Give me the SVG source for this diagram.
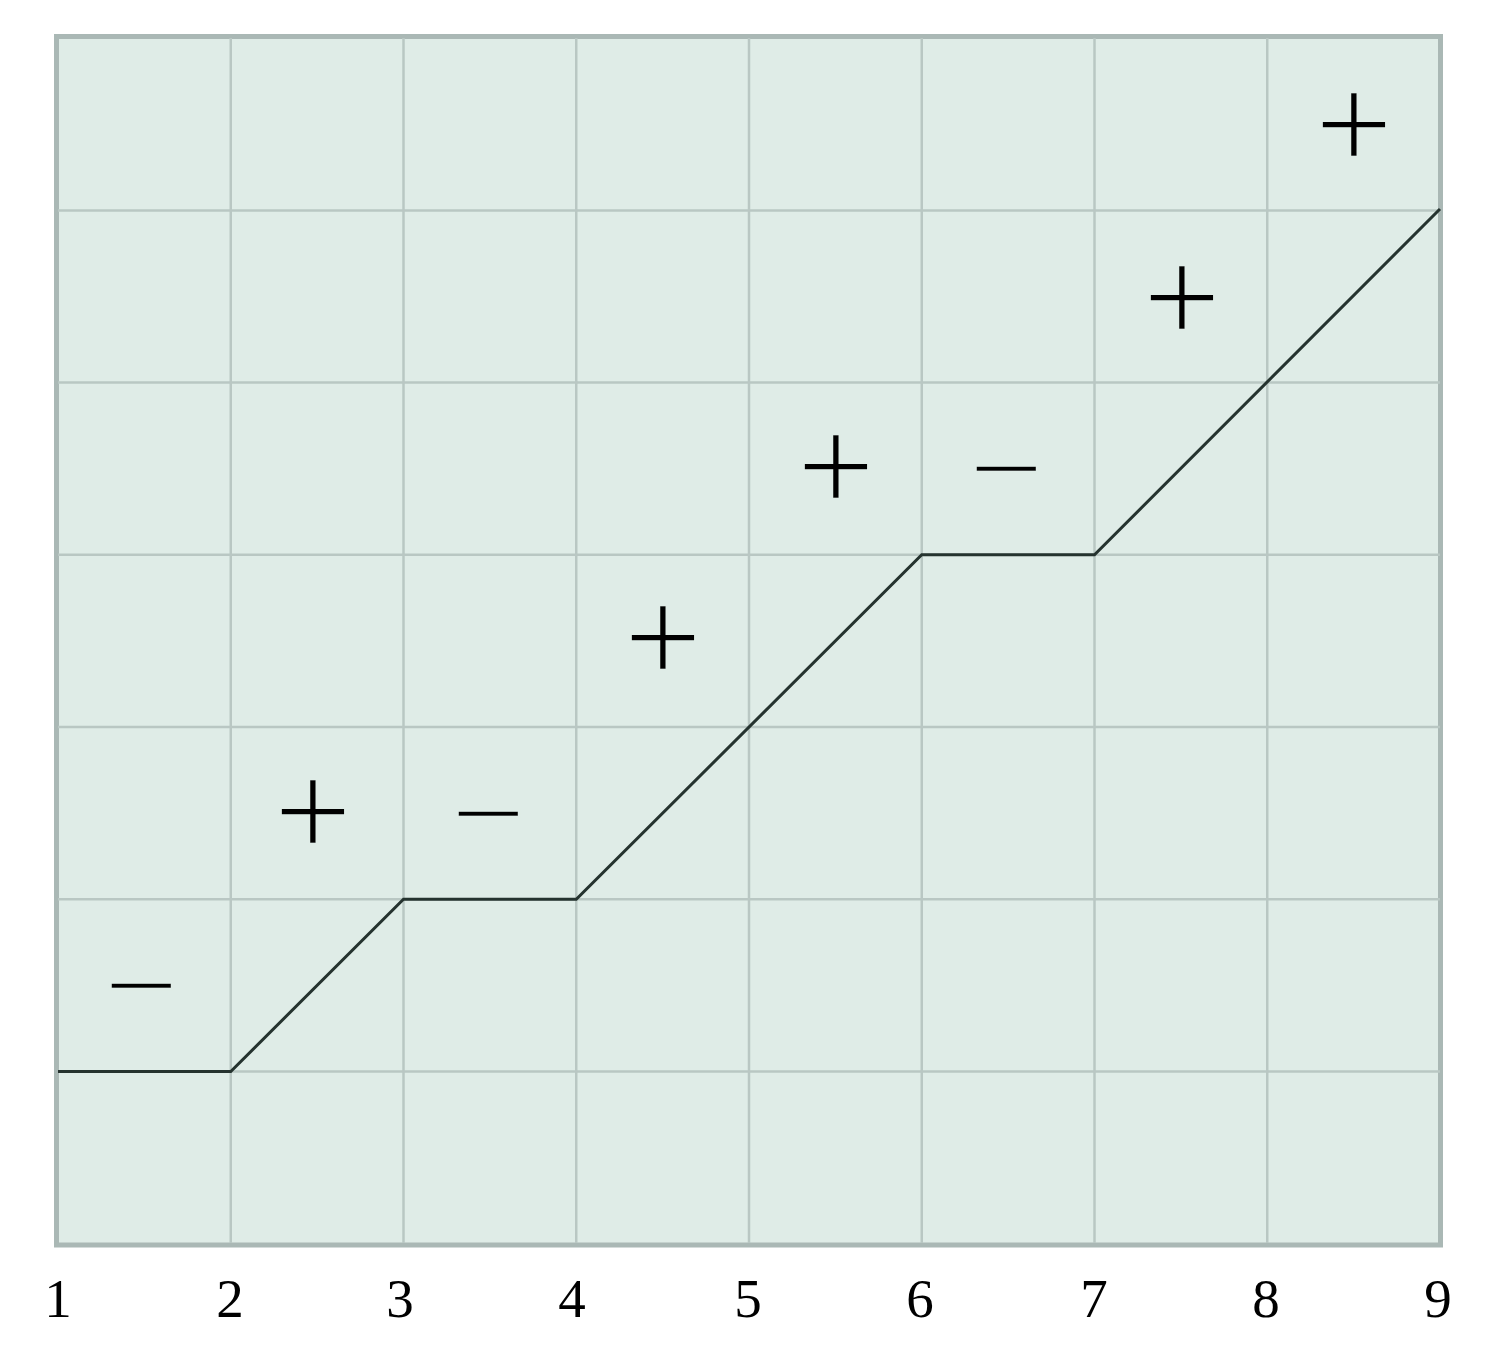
<svg xmlns="http://www.w3.org/2000/svg" width="1500" height="1350" viewBox="0 0 1500 1350">
<style>
.grid{stroke:#b9c7c3;stroke-width:2.5;fill:none}
.frame{fill:#dfece7;stroke:#aab8b5;stroke-width:5}
.path{fill:none;stroke:#25332f;stroke-width:3;stroke-linejoin:miter}
.sign{font-family:"Liberation Serif",serif;font-size:137px;fill:#000;text-anchor:middle;stroke:#dfece7;stroke-width:1.5}
.minus{font-family:"Liberation Serif",serif;font-size:133px;fill:#000;text-anchor:middle;stroke:#dfece7;stroke-width:2.8}
.num{font-family:"Liberation Serif",serif;font-size:55px;fill:#000;text-anchor:middle}
</style>
<rect class="frame" x="56.5" y="36.5" width="1384" height="1208.5"/>
<g id="grid">
<path class="grid" d="M230.75 38V1243M403.5 38V1243M576.25 38V1243M749 38V1243M921.75 38V1243M1094.5 38V1243M1267.25 38V1243M58 210.5H1440M58 382.6H1440M58 554.8H1440M58 727H1440M58 899.3H1440M58 1071.5H1440"/>
</g>
<g id="connectors">
<path class="path" d="M58 1071.5H230.75L403.5 899.3H576.25L921.75 554.8H1094.5L1440 209"/>
</g>
<g id="signs">
<text class="minus" x="141" y="1030">−</text>
<text class="sign" x="313" y="857">+</text>
<text class="minus" x="488" y="858">−</text>
<text class="sign" x="663" y="683">+</text>
<text class="sign" x="836" y="512">+</text>
<text class="minus" x="1006" y="513">−</text>
<text class="sign" x="1182" y="343">+</text>
<text class="sign" x="1354" y="170">+</text>
</g>
<g id="labels">
<text class="num" x="58" y="1317">1</text>
<text class="num" x="230" y="1317">2</text>
<text class="num" x="400" y="1317">3</text>
<text class="num" x="572" y="1317">4</text>
<text class="num" x="748" y="1317">5</text>
<text class="num" x="920" y="1317">6</text>
<text class="num" x="1094" y="1317">7</text>
<text class="num" x="1266" y="1317">8</text>
<text class="num" x="1438" y="1317">9</text>
</g>
</svg>
